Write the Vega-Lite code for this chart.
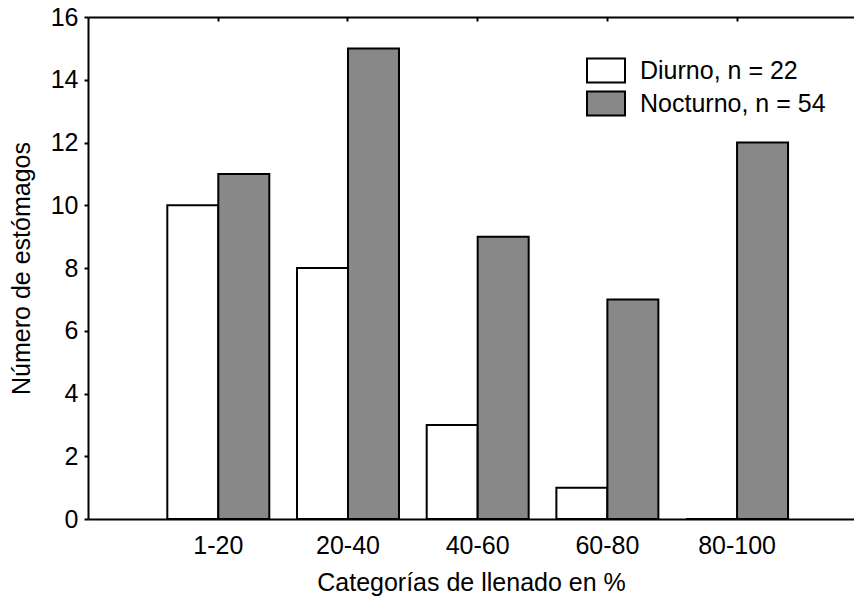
{
  "$schema": "https://vega.github.io/schema/vega-lite/v6.json",
  "width": 766,
  "height": 502,
  "autosize": {"type": "none"},
  "padding": {"left": 88, "top": 17, "right": 0, "bottom": 81},
  "background": "white",
  "config": {
    "view": {"stroke": null},
    "font": "Liberation Sans",
    "axis": {
      "domainColor": "black",
      "domainWidth": 2,
      "tickColor": "black",
      "tickWidth": 2,
      "labelColor": "black",
      "titleColor": "black",
      "labelFont": "Liberation Sans",
      "titleFont": "Liberation Sans",
      "labelFontSize": 25,
      "titleFontSize": 25,
      "titleFontWeight": "normal",
      "grid": false
    }
  },
  "data": {
    "values": [
      {"cat": "1-20", "grupo": "Diurno, n = 22", "n": 10},
      {"cat": "20-40", "grupo": "Diurno, n = 22", "n": 8},
      {"cat": "40-60", "grupo": "Diurno, n = 22", "n": 3},
      {"cat": "60-80", "grupo": "Diurno, n = 22", "n": 1},
      {"cat": "80-100", "grupo": "Diurno, n = 22", "n": 0},
      {"cat": "1-20", "grupo": "Nocturno, n = 54", "n": 11},
      {"cat": "20-40", "grupo": "Nocturno, n = 54", "n": 15},
      {"cat": "40-60", "grupo": "Nocturno, n = 54", "n": 9},
      {"cat": "60-80", "grupo": "Nocturno, n = 54", "n": 7},
      {"cat": "80-100", "grupo": "Nocturno, n = 54", "n": 12}
    ]
  },
  "layer": [
    {
      "mark": {"type": "bar", "stroke": "black", "strokeWidth": 2},
      "encoding": {
        "x": {
          "field": "cat",
          "type": "nominal",
          "sort": ["1-20", "20-40", "40-60", "60-80", "80-100"],
          "scale": {"paddingInner": 0.2136, "paddingOuter": 0.56, "align": 0.546},
          "axis": {
            "orient": "bottom",
            "title": "Categorías de llenado en %",
            "labelAngle": 0,
            "ticks": false,
            "tickSize": 0,
            "labelPadding": 14,
            "titlePadding": 12
          }
        },
        "xOffset": {
          "field": "grupo",
          "type": "nominal",
          "sort": ["Diurno, n = 22", "Nocturno, n = 54"],
          "scale": {"paddingInner": 0, "paddingOuter": 0}
        },
        "y": {
          "field": "n",
          "type": "quantitative",
          "scale": {"domain": [0, 16], "nice": false},
          "axis": {
            "values": [0, 2, 4, 6, 8, 10, 12, 14, 16],
            "title": "Número de estómagos",
            "tickSize": 4,
            "labelPadding": 6,
            "titlePadding": 16
          }
        },
        "fill": {
          "field": "grupo",
          "type": "nominal",
          "sort": ["Diurno, n = 22", "Nocturno, n = 54"],
          "scale": {"range": ["#ffffff", "#888888"]},
          "legend": {
            "title": null,
            "orient": "none",
            "legendX": 501.5,
            "legendY": 37,
            "symbolType": "M-1.226,-0.774H1.226V0.774H-1.226Z",
            "symbolSize": 961,
            "symbolStrokeColor": "black",
            "symbolStrokeWidth": 2,
            "symbolOpacity": 1,
            "labelFont": "Liberation Sans",
            "labelFontSize": 25,
            "labelColor": "black",
            "labelOffset": 17.5,
            "labelLimit": 400,
            "rowPadding": 0
          }
        }
      }
    },
    {
      "mark": {"type": "tick", "opacity": 0},
      "encoding": {
        "x": {
          "field": "cat",
          "type": "nominal",
          "sort": ["1-20", "20-40", "40-60", "60-80", "80-100"],
          "axis": {"orient": "top", "title": null, "labels": false, "tickSize": -4, "domain": true}
        }
      }
    }
  ],
  "resolve": {"axis": {"x": "independent"}}
}
